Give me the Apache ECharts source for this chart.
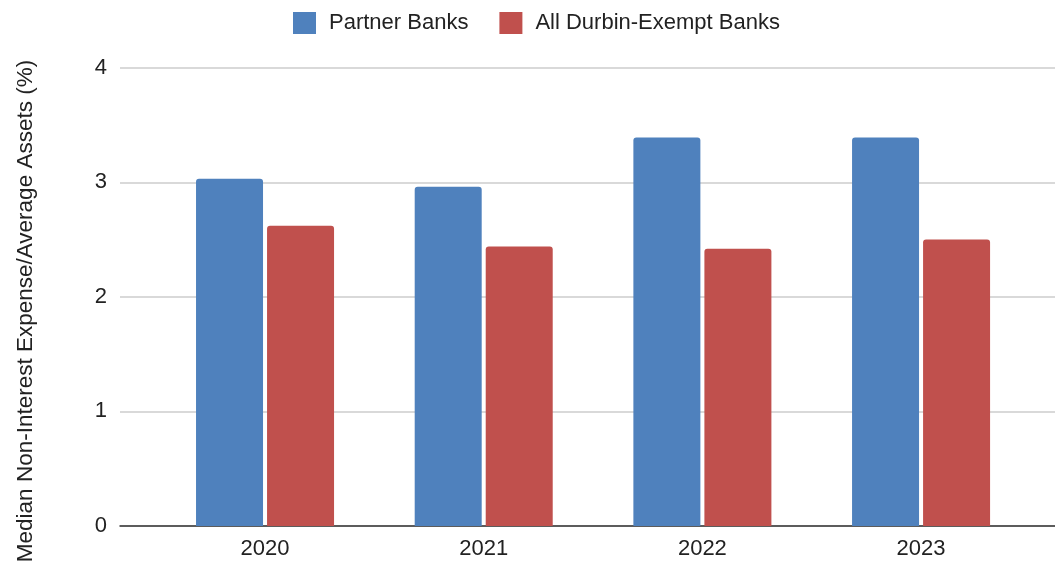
<!DOCTYPE html>
<html>
<head>
<meta charset="utf-8">
<script src="https://cdn.jsdelivr.net/npm/echarts@6/dist/echarts.min.js"></script>
<style>html,body{margin:0;padding:0;background:#fff}#c{width:1055px;height:562px}</style>
</head>
<body>
<div id="c"></div>
<script>
const categories = ['2020', '2021', '2022', '2023'];
const partnerBanks = [3.03, 2.96, 3.39, 3.39];
const durbinExempt = [2.62, 2.44, 2.42, 2.50];
const yTicks = [0, 1, 2, 3, 4];
const yTitle = 'Median Non-Interest Expense/Average Assets (%)';

const FONT = '"Liberation Sans", Arial, sans-serif';
const chart = echarts.init(document.getElementById('c'));
const gridTop = 67.7, gridBottom = 36;
chart.setOption({
  animation: false,
  textStyle: { fontFamily: FONT },
  legend: {
    top: 7, left: 288,
    itemWidth: 23, itemHeight: 22, itemGap: 31,
    icon: 'rect',
    itemStyle: { borderRadius: 3 },
    textStyle: { fontSize: 22, color: '#222', fontFamily: FONT, padding: [0, 0, 0, 8] },
    data: ['Partner Banks', 'All Durbin-Exempt Banks']
  },
  graphic: [{
    type: 'text', x: 26, y: 311, rotation: Math.PI / 2,
    style: { text: yTitle, fontSize: 22.5, fontFamily: FONT, fill: '#222', align: 'center', verticalAlign: 'middle' }
  }],
  grid: [
    { left: 120, right: 0, top: gridTop, bottom: gridBottom },
    { left: 155.7, right: 24.6, top: gridTop, bottom: gridBottom }
  ],
  xAxis: [
    { gridIndex: 0, type: 'value', min: 0, max: 1, axisLine: { show: true, onZero: false, lineStyle: { color: '#333', width: 1.5 } },
      axisTick: { show: false }, axisLabel: { show: false }, splitLine: { show: false } },
    { gridIndex: 1, type: 'category', data: categories,
      axisLine: { show: false }, axisTick: { show: false },
      axisLabel: { fontSize: 22, color: '#222', margin: 12, fontFamily: FONT } }
  ],
  yAxis: [
    { gridIndex: 0, type: 'value', min: yTicks[0], max: yTicks[yTicks.length - 1], interval: 1,
      axisLine: { show: false }, axisTick: { show: false },
      axisLabel: { fontSize: 22, color: '#222', margin: 13, fontFamily: FONT },
      splitLine: { lineStyle: { color: '#cccccc', width: 1.5 } } },
    { gridIndex: 1, type: 'value', min: 0, max: 4, interval: 1, show: false, splitLine: { show: false } }
  ],
  series: [
    { name: 'Partner Banks', type: 'bar', xAxisIndex: 1, yAxisIndex: 1, data: partnerBanks,
      barWidth: 67, barGap: '6%', itemStyle: { color: '#4f81bd', borderRadius: [3, 3, 0, 0] }, z: 3 },
    { name: 'All Durbin-Exempt Banks', type: 'bar', xAxisIndex: 1, yAxisIndex: 1, data: durbinExempt,
      barWidth: 67, barGap: '6%', itemStyle: { color: '#c0504d', borderRadius: [3, 3, 0, 0] }, z: 3 }
  ]
});
</script>
</body>
</html>
